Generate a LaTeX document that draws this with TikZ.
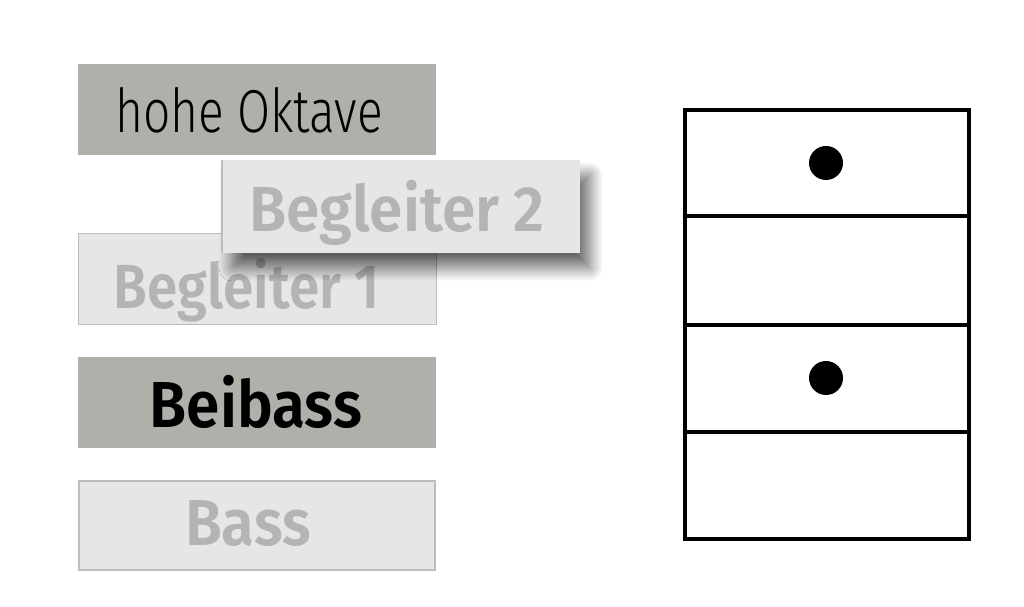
\documentclass[tikz,border=0pt]{standalone}
\usepackage{fontspec}
\setmainfont{Fira Sans}[BoldFont={Fira Sans SemiBold}]
\newfontfamily\lightfont{Fira Sans Light}
\usetikzlibrary{shadows.blur}
\definecolor{boxdark}{HTML}{B0B0AA}
\definecolor{boxlight}{HTML}{E6E6E4}
\definecolor{textlight}{HTML}{B4B4B4}
\definecolor{edgelight}{HTML}{BDBDBD}
\tikzset{
  voice/.style={rectangle,minimum width=7.16cm,minimum height=1.82cm,inner sep=0pt},
  darkvoice/.style={voice,fill=boxdark},
  lightvoice/.style={voice,fill=boxlight},
  voicetext/.style={anchor=base,inner sep=0pt}
}
\begin{document}
\begin{tikzpicture}[x=0.02cm,y=-0.02cm]
\useasboundingbox (0,0) rectangle (1024,607);
\node[darkvoice] (hohe) at (257,109.5) {};
\node[voicetext,font=\lightfont\fontsize{34.5}{40}\selectfont] (hoheText) at (249,133) {\scalebox{0.79}[1]{hohe Oktave}};
\node[lightvoice,draw=edgelight,line width=0.4pt] (beg1) at (257,278.5) {};
\node[voicetext,text=textlight,font=\bfseries\fontsize{35.5}{41}\selectfont] (beg1Text) at (246.5,309) {\scalebox{0.88}[1]{Begleiter 1}};
\node[lightvoice,minimum height=1.86cm,blur shadow={shadow xshift=0.2cm,shadow yshift=-0.3cm,shadow blur radius=0.26cm,shadow blur steps=24,shadow opacity=60}] (beg2) at (401,206.5) {};
\draw[edgelight,line width=1pt] (beg2.north west) -- (beg2.south west);
\node[voicetext,text=textlight,font=\bfseries\fontsize{36.3}{42}\selectfont] (beg2Text) at (397,232) {\scalebox{0.945}[1]{Begleiter 2}};
\node[darkvoice] (beibass) at (257,402.5) {};
\node[voicetext,font=\bfseries\fontsize{37}{43}\selectfont] (beibassText) at (256,428) {\scalebox{0.927}[1]{Beibass}};
\node[lightvoice,draw=edgelight,line width=1.2pt,minimum width=7.12cm,minimum height=1.78cm] (bass) at (257,525.5) {};
\node[voicetext,text=textlight,font=\bfseries\fontsize{37}{43}\selectfont] (bassText) at (248,545) {\scalebox{0.92}[1]{Bass}};
\draw[line width=0.08cm] (685,110) rectangle (969,539);
\foreach \y in {216,325,432}
  \draw[line width=0.08cm] (685,\y) -- (969,\y);
\foreach \y in {163,378}
  \fill (826,\y) circle (17);
\end{tikzpicture}
\end{document}
